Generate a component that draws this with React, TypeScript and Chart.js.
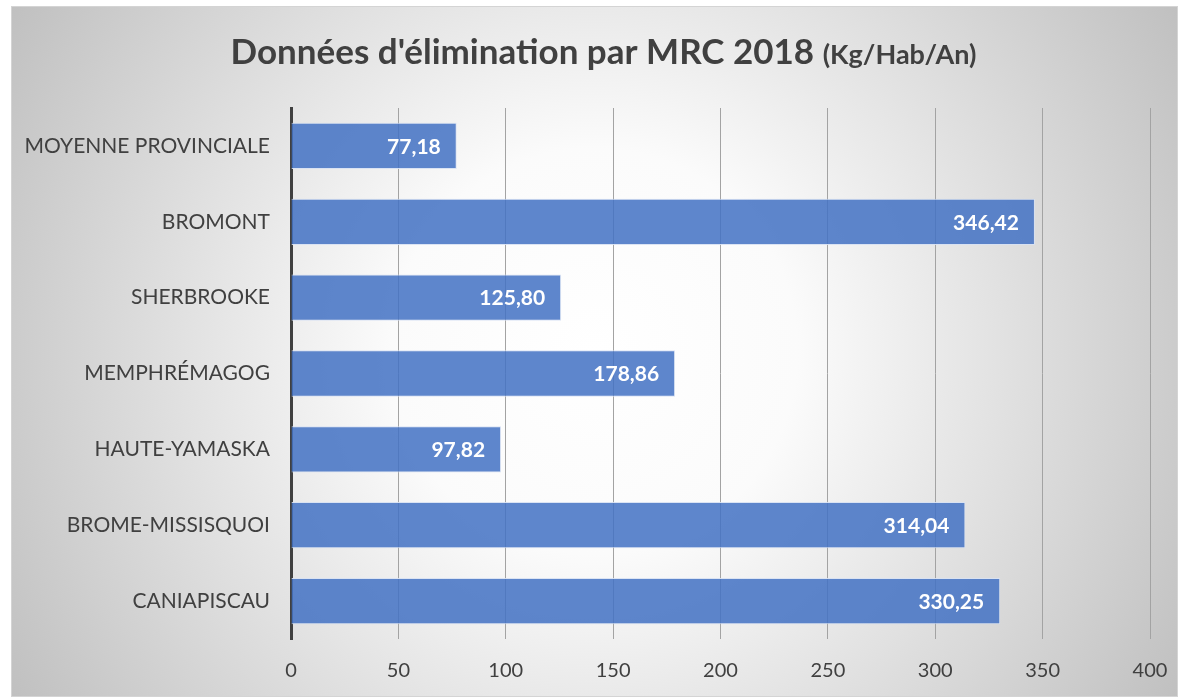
import React, { useEffect, useRef } from "react";
import { Chart, registerables } from "chart.js";

Chart.register(...registerables);

const categories = [
  "MOYENNE PROVINCIALE",
  "BROMONT",
  "SHERBROOKE",
  "MEMPHRÉMAGOG",
  "HAUTE-YAMASKA",
  "BROME-MISSISQUOI",
  "CANIAPISCAU",
];
const values = [77.18, 346.42, 125.8, 178.86, 97.82, 314.04, 330.25];
const titleMain = "Données d'élimination par MRC 2018";
const titleUnit = "(Kg/Hab/An)";
const xMin = 0;
const xMax = 400;
const xStep = 50;

const FONT = "Lato, 'Open Sans', sans-serif";
const TEXT = "#404040";

const bgPlugin = {
  id: "bgGradient",
  beforeDraw(chart: any) {
    const { ctx, width, height } = chart;
    ctx.save();
    const cx = width * 0.5;
    const cy = height * 0.5;
    const r = Math.sqrt(width * width + height * height) / 2;
    const g = ctx.createRadialGradient(cx, cy, 0, cx, cy, r);
    g.addColorStop(0, "#ffffff");
    g.addColorStop(0.3, "#fbfbfb");
    g.addColorStop(1, "#c0c0c0");
    ctx.fillStyle = g;
    ctx.fillRect(0, 0, width, height);
    ctx.restore();
  },
};

const titlePlugin = {
  id: "mixedTitle",
  afterDraw(chart: any) {
    const { ctx, width } = chart;
    ctx.save();
    const f1 = `bold 35px ${FONT}`;
    const f2 = `bold 27px ${FONT}`;
    ctx.font = f1;
    const w1 = ctx.measureText(titleMain + " ").width;
    ctx.font = f2;
    const w2 = ctx.measureText(titleUnit).width;
    const start = width / 2 - (w1 + w2) / 2 + 9;
    const baseline = 57;
    ctx.fillStyle = TEXT;
    ctx.textBaseline = "alphabetic";
    ctx.textAlign = "left";
    ctx.font = f1;
    ctx.fillText(titleMain + " ", start, baseline);
    ctx.font = f2;
    ctx.fillText(titleUnit, start + w1, baseline);
    ctx.restore();
  },
};

const labelPlugin = {
  id: "barValues",
  afterDatasetsDraw(chart: any) {
    const { ctx } = chart;
    const meta = chart.getDatasetMeta(0);
    ctx.save();
    ctx.font = `bold 21px ${FONT}`;
    ctx.fillStyle = "#ffffff";
    ctx.textAlign = "right";
    ctx.textBaseline = "middle";
    meta.data.forEach((bar: any, i: number) => {
      const txt = values[i].toFixed(2).replace(".", ",");
      ctx.fillText(txt, bar.x - 16, bar.y + 1);
    });
    ctx.restore();
  },
};

export default function App() {
  const ref = useRef<HTMLCanvasElement>(null);

  useEffect(() => {
    if (!ref.current) return;
    const chart = new Chart(ref.current, {
      type: "bar",
      data: {
        labels: categories,
        datasets: [
          {
            data: values,
            backgroundColor: "rgba(68,114,196,0.86)",
            borderColor: "rgba(215,225,243,0.9)",
            borderWidth: 1,
            categoryPercentage: 0.61,
            barPercentage: 1,
          },
        ],
      },
      options: {
        indexAxis: "y",
        responsive: false,
        animation: false,
        layout: { padding: { top: 101, right: 27, bottom: 0, left: 0 } },
        plugins: {
          legend: { display: false },
          title: { display: false },
          tooltip: { enabled: false },
        },
        scales: {
          x: {
            min: xMin,
            max: xMax,
            ticks: {
              stepSize: xStep,
              color: TEXT,
              font: { family: FONT, size: 20 },
              padding: 20,
            },
            grid: { color: "#a3a3a3", lineWidth: 1, drawTicks: false },
            border: { display: false },
            afterFit(scale: any) {
              scale.height = 57;
              scale.paddingRight = 0;
              scale.paddingLeft = 0;
            },
          },
          y: {
            ticks: {
              color: TEXT,
              font: { family: FONT, size: 21 },
              padding: 21,
            },
            grid: { display: false, drawTicks: false },
            border: { display: true, color: "#404040", width: 3 },
            afterFit(scale: any) {
              scale.width = 279;
              scale.paddingTop = 0;
              scale.paddingBottom = 0;
            },
          },
        },
      },
      plugins: [bgPlugin, labelPlugin, titlePlugin],
    });
    return () => chart.destroy();
  }, []);

  return (
    <div
      style={{
        position: "fixed",
        left: 11,
        top: 6,
        width: 1167,
        height: 691,
        boxSizing: "border-box",
        border: "1px solid #d4d4d4",
        overflow: "hidden",
      }}
    >
      <canvas ref={ref} width={1165} height={689} style={{ display: "block" }} />
    </div>
  );
}
